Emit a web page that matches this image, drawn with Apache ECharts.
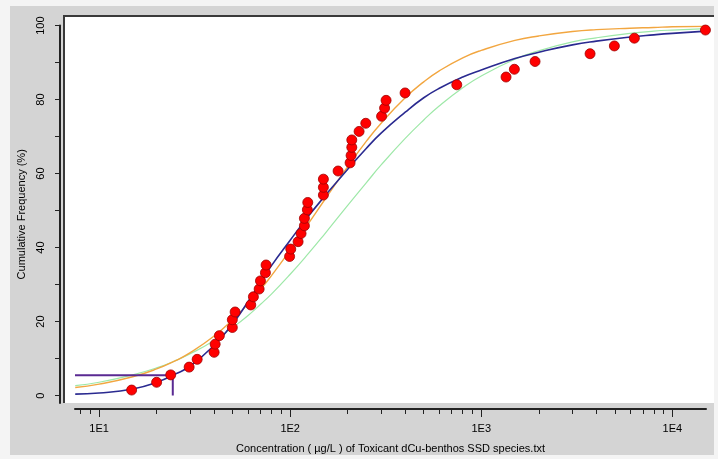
<!DOCTYPE html>
<html>
<head>
<meta charset="utf-8">
<script src="https://cdn.jsdelivr.net/npm/echarts@6.0.0/dist/echarts.min.js"></script>
<style>
html,body{margin:0;padding:0;background:#f4f4f4;}
#chart{width:718px;height:459px;}
</style>
</head>
<body>
<div id="chart"></div>
<script>
// Observed species toxicity data (concentration µg/L, cumulative frequency %)
const concentration = [14.8, 20.0, 23.7, 29.6, 32.6, 40.0, 40.5, 42.6, 49.8, 49.8, 51.5, 62.2, 64.2, 68.8, 69.9, 74.2, 74.8, 99.3, 100.7, 110.0, 114.0, 118.7, 118.7, 123.0, 123.6, 149.2, 149.2, 149.2, 178.1, 205.8, 208.3, 210.1, 210.1, 229.4, 248.7, 300.8, 311.9, 317.6, 399.3, 744.5, 1348, 1490, 1912, 3710, 4972, 6327, 14900];
const cumFreq = [1.5, 3.6, 5.6, 7.7, 9.8, 11.7, 13.9, 16.2, 18.4, 20.5, 22.6, 24.5, 26.7, 28.8, 31.0, 33.2, 35.3, 37.6, 39.6, 41.6, 43.8, 45.9, 47.9, 50.2, 52.2, 54.2, 56.3, 58.5, 60.7, 62.9, 64.9, 67.1, 69.1, 71.4, 73.6, 75.5, 77.7, 79.8, 81.8, 84.0, 86.1, 88.2, 90.3, 92.4, 94.5, 96.6, 98.8];

// Fitted curves, read at these concentrations
const curveConc = [7.5, 10, 15, 20, 25, 30, 40, 50, 60, 70, 80, 100, 125, 150, 200, 250, 300, 400, 500, 600, 800, 1000, 1500, 2000, 3000, 4000, 6000, 8000, 10000, 15000];
const blueFit   = [0.4, 0.7, 1.8, 3.6, 5.8, 8.0, 13.6, 19.4, 25.3, 30.6, 35.2, 42.0, 48.6, 53.6, 61.2, 66.8, 71.0, 76.6, 80.5, 83.0, 86.1, 88.0, 91.1, 92.8, 94.8, 95.8, 96.9, 97.5, 97.9, 98.5];
const orangeFit = [2.2, 3.1, 5.1, 7.2, 9.4, 11.6, 16.1, 20.5, 24.7, 28.7, 32.5, 39.3, 46.6, 52.6, 61.9, 68.7, 73.7, 80.5, 84.8, 87.7, 91.3, 93.3, 96.0, 97.2, 98.4, 98.9, 99.3, 99.5, 99.7, 99.8];
const greenFit  = [2.7, 3.6, 5.6, 7.5, 9.4, 11.3, 14.9, 18.4, 21.6, 24.7, 27.5, 32.8, 38.5, 43.4, 51.4, 57.5, 62.4, 69.5, 74.5, 78.2, 83.2, 86.4, 90.9, 93.2, 95.6, 96.7, 97.9, 98.5, 98.8, 99.2];

// HC5 marker
const hc5Conc = 24.3;
const hc5Level = 5.5;

// Axis ticks
const xMajorTicks = [10, 100, 1000, 10000];
const xMinorTicks = [8, 9, 20, 30, 40, 50, 60, 70, 80, 90, 200, 300, 400, 500, 600, 700, 800, 900, 2000, 3000, 4000, 5000, 6000, 7000, 8000, 9000];
const yLabels = [0, 20, 40, 60, 80, 100];
const yTicks = [0, 10, 20, 30, 40, 50, 60, 70, 80, 90, 100];

const xMin = 7.48, xMax = 15000;

const font = 'Liberation Sans, Arial, sans-serif';
const pairs = (xs, ys) => xs.map((x, i) => [x, ys[i]]);

const chart = echarts.init(document.getElementById('chart'), null, {renderer: 'canvas'});
chart.setOption({
  animation: false,
  backgroundColor: '#f4f4f4',
  graphic: [
    {type: 'rect', z: -10, shape: {x: 10, y: 6, width: 704, height: 449}, style: {fill: '#d4d4d4'}},
    {type: 'rect', z: -9, shape: {x: 64, y: 16, width: 650, height: 387}, style: {fill: '#ffffff'}},
    {type: 'polyline', z: -8, shape: {points: [[64, 403], [64, 16], [714, 16]]}, style: {stroke: '#3a3a3a', lineWidth: 2, fill: null}}
  ],
  grid: {left: 75, right: 12, top: 25.6, bottom: 56, containLabel: false},
  xAxis: [
    {
      type: 'log', logBase: 10, min: xMin, max: xMax, offset: 6, position: 'bottom',
      axisLine: {show: true, onZero: false, lineStyle: {color: '#222', width: 2}},
      axisTick: {show: true, length: 8, inside: false, customValues: xMajorTicks, lineStyle: {color: '#222', width: 1}},
      axisLabel: {show: true, customValues: xMajorTicks, margin: 14, fontSize: 11, color: '#000', fontFamily: font,
        formatter: v => '1E' + Math.round(Math.log10(v))},
      splitLine: {show: false}, minorTick: {show: false}, minorSplitLine: {show: false},
      name: 'Concentration ( µg/L ) of Toxicant dCu-benthos SSD species.txt',
      nameLocation: 'middle', nameGap: 34,
      nameTextStyle: {fontSize: 11, color: '#000', fontFamily: font}
    },
    {
      type: 'log', logBase: 10, min: xMin, max: xMax, offset: 6, position: 'bottom', gridIndex: 0,
      axisLine: {show: false, onZero: false},
      axisTick: {show: true, length: 5, customValues: xMinorTicks, lineStyle: {color: '#222', width: 1}},
      axisLabel: {show: false}, splitLine: {show: false}
    }
  ],
  yAxis: {
    type: 'value', min: -2, max: 100, offset: 15,
    axisLine: {show: true, onZero: false, lineStyle: {color: '#222', width: 2}},
    axisTick: {show: true, length: 5, customValues: yTicks, lineStyle: {color: '#222', width: 1}},
    axisLabel: {show: true, customValues: yLabels, rotate: 90, margin: 14, fontSize: 11, color: '#000', fontFamily: font},
    splitLine: {show: false},
    name: 'Cumulative Frequency (%)', nameLocation: 'middle', nameRotate: 90, nameGap: 33,
    nameTextStyle: {fontSize: 11, color: '#000', fontFamily: font}
  },
  series: [
    {type: 'line', name: 'green', data: pairs(curveConc, greenFit), showSymbol: false, smooth: true,
      lineStyle: {color: '#9ee8a8', width: 1.2}, z: 2},
    {type: 'line', name: 'orange', data: pairs(curveConc, orangeFit), showSymbol: false, smooth: true,
      lineStyle: {color: '#f2a640', width: 1.4}, z: 3},
    {type: 'line', name: 'blue', data: pairs(curveConc, blueFit), showSymbol: false, smooth: true,
      lineStyle: {color: '#2a2a90', width: 1.6}, z: 4},
    {type: 'line', name: 'hc5', data: [[xMin, hc5Level], [hc5Conc, hc5Level], [hc5Conc, 0]], showSymbol: false,
      lineStyle: {color: '#5a2a92', width: 2}, z: 5},
    {type: 'scatter', name: 'species', data: pairs(concentration, cumFreq), symbol: 'circle', symbolSize: 10, clip: false,
      itemStyle: {color: '#ff0000', borderColor: '#a00000', borderWidth: 0.8, opacity: 1}, z: 6}
  ]
});
</script>
</body>
</html>
